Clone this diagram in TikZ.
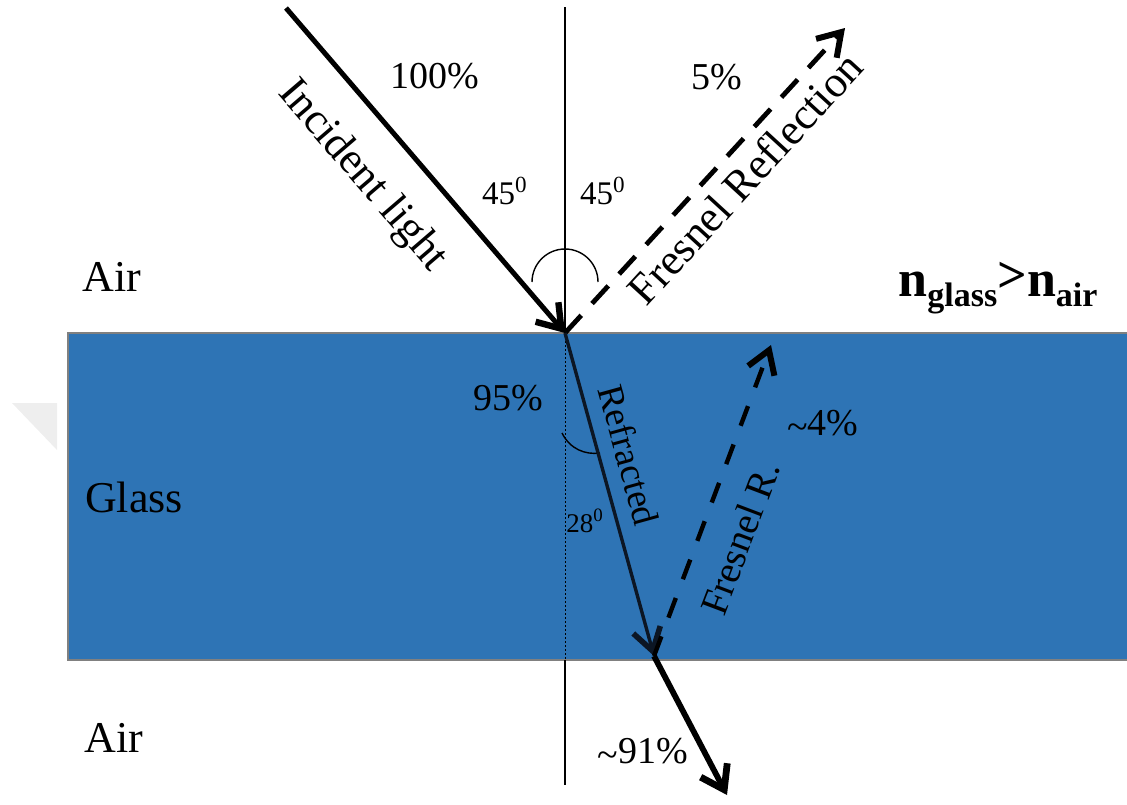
\documentclass[tikz,border=0pt]{standalone}
\usepackage{fontspec}
\setmainfont{Liberation Serif}
\usetikzlibrary{arrows.meta}
\definecolor{glassblue}{RGB}{46,116,181}
\definecolor{refrcol}{RGB}{12,22,36}
\definecolor{edgegray}{RGB}{128,128,128}
\newcommand{\tld}{\raisebox{-2pt}{\textasciitilde}}
\tikzset{
  region/.style={font=\fontsize{22}{26}\selectfont, inner sep=0pt},
  pct/.style={font=\fontsize{19}{22}\selectfont, inner sep=0pt},
  anglab/.style={font=\fontsize{16.5}{20}\selectfont, inner sep=0pt},
  smallang/.style={font=\fontsize{13.5}{16}\selectfont, inner sep=0pt},
  refrlab/.style={font=\fontsize{18.5}{22}\selectfont, inner sep=0pt},
  frlab/.style={font=\fontsize{19.5}{23}\selectfont, inner sep=0pt},
  ray/.style={line width=2.5pt, -{Straight Barb[length=11pt,width=15pt,line width=3.2pt 0 0]}},
  thickray/.style={line width=2.9pt, -{Straight Barb[length=11pt,width=15pt,line width=3.4pt 0 0]}},
  refrray/.style={refrcol, line width=1.7pt, -{Straight Barb[length=11pt,width=14pt,line width=2.8pt 0 0]}},
  reflray/.style={line width=2.4pt, dash pattern=on 12pt off 8pt, -{Straight Barb[length=11pt,width=14pt,line width=3pt 0 0]}},
  frray/.style={line width=2.2pt, dash pattern=on 10.5pt off 10pt, -{Straight Barb[length=11pt,width=14pt,line width=3pt 0 0]}},
  normalline/.style={line width=0.7pt},
  normaldot/.style={line width=0.5pt, dash pattern=on 1pt off 1pt},
  anglearc/.style={line width=0.7pt}
}
\begin{document}
\begin{tikzpicture}[x=0.5pt,y=-0.5pt]
\useasboundingbox (0,0) rectangle (1127,804);
% faint watermark triangle
\fill[gray!13] (12,403) -- (57,403) -- (57,450) -- cycle;
% glass slab
\fill[glassblue] (68,333) rectangle (1135,660);
\draw[edgegray, line width=1.2pt] (1135,333) -- (68,333) -- (68,660) -- (1135,660);
% key points
\coordinate (S) at (286,8);
\coordinate (P) at (565,333);
\coordinate (R1) at (845,28);
\coordinate (Q) at (654,656);
\coordinate (R2) at (771,345);
\coordinate (T) at (727,795);
\coordinate (N1) at (565,7);
\coordinate (G1) at (565,660);
\coordinate (N2) at (565,785);
% normal
\draw[normalline] (N1) -- (P);
\draw[normaldot] (P) -- (G1);
\draw[normalline] (G1) -- (N2);
% angle arcs
\coordinate (A1) at (532,282);
\draw[anglearc] (A1) arc[start angle=180, end angle=360, radius=33];
\coordinate (B1) at (562,433);
\coordinate (B2) at (600,453);
\draw[anglearc] (B1) .. controls (570,449) and (585,455) .. (B2);
% rays
\draw[ray] (S) -- (P);
\draw[reflray] (P) -- (R1);
\draw[refrray] (P) -- (Q);
\draw[frray] (Q) -- (R2);
\draw[thickray] (Q) -- (T);
% labels
\node[pct] (t100) at (435,76) {100\%};
\node[pct] (t5) at (717,77) {5\%};
\node[anglab] (a45l) at (505,191) {45\textsuperscript{0}};
\node[anglab] (a45r) at (603,191) {45\textsuperscript{0}};
\node[region] (air1) at (112,277) {Air};
\node[region] (air2) at (114,738) {Air};
\node[region] (glass) at (134,497) {Glass};
\node[pct] (t95) at (508,398) {95\%};
\node[smallang] (a28) at (585,521) {28\textsuperscript{0}};
\node[pct] (t4) at (823,425) {\tld4\%};
\node[pct] (t91) at (643,753) {\tld91\%};
\node[inner sep=0pt] (nidx) at (998,288) {\fontsize{26}{30}\selectfont\bfseries n\raisebox{-5pt}{\fontsize{17}{20}\selectfont glass}\raisebox{2pt}{>}n\raisebox{-5pt}{\fontsize{17}{20}\selectfont air}};
\node[region, rotate=-49.35] (linc) at (362,176) {Incident light};
\node[region, rotate=47.45] (lrefl) at (745,178) {Fresnel Reflection};
\node[refrlab, rotate=-74.55] (lrefr) at (629,455) {Refracted};
\node[frlab, rotate=69.3] (lfr) at (740,538) {Fresnel R.};
\end{tikzpicture}
\end{document}
